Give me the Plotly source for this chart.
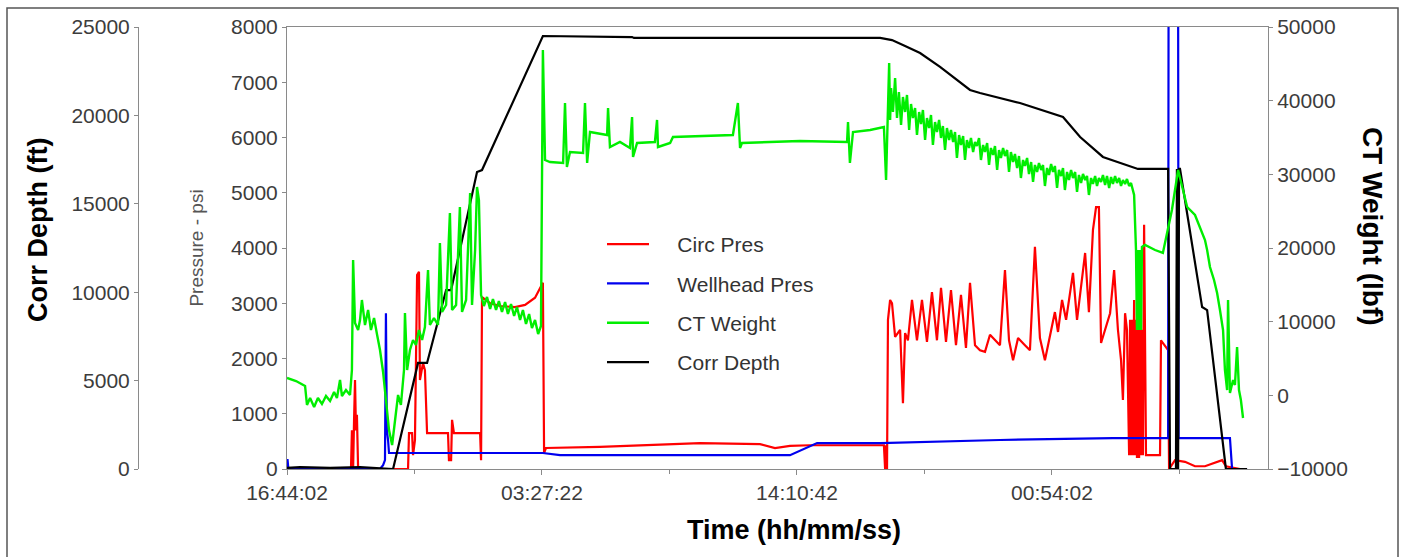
import pandas as pd
import plotly.graph_objects as go

# Job log start; every sample time below is elapsed hours from this moment
START = pd.Timestamp("2020-01-01 16:44:02")

# Circ Pres (psi) vs elapsed hours
CIRC_PRES = [
    (0.00, 0), (2.69, 0), (2.73, 700), (2.78, 0), (2.82, 890), (2.86, 1610), (2.90, 700),
    (2.94, 980), (2.99, 0), (5.09, 0), (5.13, 650), (5.26, 650), (5.30, 250), (5.38, 520),
    (5.47, 3510), (5.55, 3570), (5.59, 1610), (5.72, 1920), (5.80, 1790), (5.89, 650),
    (6.77, 650), (6.81, 160), (6.90, 160), (6.94, 890), (7.02, 650), (8.12, 650), (8.16, 160),
    (8.20, 3110), (8.54, 3000), (8.96, 2950), (9.59, 2930), (10.01, 2970), (10.43, 3100),
    (10.72, 3330), (10.76, 3370), (10.81, 290), (10.89, 380), (13.16, 400), (15.68, 450),
    (17.37, 470), (19.89, 450), (20.52, 380), (21.15, 420), (21.99, 430), (25.10, 430),
    (25.15, 0), (25.19, 430), (25.23, 0), (25.27, 2700), (25.36, 3060), (25.44, 3000),
    (25.57, 2390), (25.78, 2520), (25.90, 1190), (25.99, 2460), (26.11, 2330), (26.28, 3060),
    (26.49, 2330), (26.70, 3060), (26.91, 2300), (27.12, 3200), (27.33, 2330), (27.50, 3280),
    (27.71, 2300), (27.92, 3240), (28.13, 2240), (28.34, 3150), (28.55, 2190), (28.72, 3370),
    (28.93, 2240), (29.14, 2150), (29.35, 2120), (29.56, 2430), (29.77, 2330), (29.98, 2240),
    (30.19, 3600), (30.36, 2330), (30.53, 1970), (30.74, 2370), (31.03, 2240), (31.24, 2150),
    (31.45, 4020), (31.66, 2370), (31.87, 1970), (32.08, 2410), (32.29, 2840), (32.42, 2480),
    (32.59, 3060), (32.76, 2700), (32.93, 3240), (33.05, 3550), (33.22, 2700), (33.39, 3330),
    (33.56, 3910), (33.72, 2840), (33.89, 4330), (34.02, 4740), (34.14, 4740), (34.23, 2280),
    (34.40, 2520), (34.61, 2820), (34.78, 3600), (34.94, 2520), (35.07, 1970), (35.15, 1250),
    (35.24, 2820), (35.32, 2520), (35.41, 250), (35.45, 2700), (35.49, 250), (35.53, 2700),
    (35.57, 250), (35.62, 3060), (35.66, 250), (35.70, 2700), (35.74, 200), (35.78, 2700),
    (35.83, 200), (35.87, 2520), (35.91, 250), (35.95, 2520), (35.99, 250), (36.04, 4420),
    (36.12, 250), (36.71, 250), (36.75, 2330), (36.92, 2240), (37.05, 2150), (37.09, 0),
    (37.34, 160), (37.76, 130), (38.18, 50), (38.60, 50), (39.02, 110), (39.32, 160),
    (39.48, 50), (40.07, 0),
]

# Wellhead Pres (psi) vs elapsed hours
WELLHEAD_PRES = [
    (0.00, 0), (0.02, 180), (0.06, 0), (3.91, 0), (4.04, 70), (4.12, 160), (4.16, 2820),
    (4.20, 700), (4.25, 520), (4.29, 290), (10.76, 290), (11.48, 250), (17.37, 250),
    (21.15, 250), (22.29, 470), (24.94, 470), (29.98, 525), (34.73, 560), (37.05, 560),
    (37.07, 9000), (37.47, 9000), (37.49, 560), (39.65, 560), (39.74, 0), (40.37, 0),
]

# CT Weight (lbf) vs elapsed hours
CT_WEIGHT = [
    (0.00, 2353), (0.38, 1946), (0.76, 1267), (0.84, -1312), (0.97, -362), (1.14, -1584),
    (1.30, -362), (1.47, -1176), (1.64, -90), (1.81, -769), (1.98, 453), (2.10, -362),
    (2.23, 2082), (2.31, -90), (2.48, 724), (2.65, 46), (2.73, 3439), (2.78, 18372),
    (2.86, 9820), (2.99, 8869), (3.07, 10227), (3.15, 12942), (3.28, 9548), (3.41, 11584),
    (3.53, 8869), (3.66, 10498), (3.79, 8190), (3.91, 6155), (4.04, 3168), (4.16, -633),
    (4.29, -4706), (4.42, -6742), (4.54, -3348), (4.67, 46), (4.79, -1312), (4.92, 3439),
    (4.96, 11177), (5.05, 3439), (5.17, 6155), (5.30, 7512), (5.42, 6834), (5.55, 8869),
    (5.68, 7512), (5.80, 9277), (5.93, 17014), (6.01, 9548), (6.18, 10498), (6.35, 9548),
    (6.43, 20680), (6.52, 11313), (6.69, 12263), (6.85, 24752), (6.94, 11584), (7.11, 12263),
    (7.27, 25567), (7.36, 11313), (7.53, 12942), (7.70, 27467), (7.78, 12263), (7.91, 19729),
    (7.99, 28282), (8.07, 26517),
    (8.16, 13621), (8.28, 12127), (8.41, 13349), (8.54, 11720), (8.66, 13078), (8.79, 11584),
    (8.91, 12806), (9.04, 11313), (9.17, 12670), (9.29, 11041), (9.42, 12399), (9.55, 10770),
    (9.67, 11992), (9.80, 10227), (9.92, 11584), (10.05, 9684), (10.18, 11041), (10.30, 9141),
    (10.43, 10227), (10.56, 8326), (10.68, 9412),
    (10.76, 46879), (10.85, 31947),
    (11.06, 31675), (11.61, 31540), (11.69, 39685), (11.77, 30997), (11.90, 33033),
    (12.45, 32897), (12.53, 39685), (12.62, 31540), (12.74, 35748), (13.46, 35341),
    (13.50, 39007), (13.58, 33712), (14.00, 34390), (14.42, 33576), (14.51, 37784),
    (14.55, 32354), (14.72, 34255), (15.47, 34390), (15.56, 37377), (15.60, 33712),
    (16.11, 34255), (16.23, 35069), (18.75, 35341), (18.96, 39685), (19.05, 33576),
    (19.13, 34255), (21.57, 34526), (23.55, 34390), (23.59, 37105), (23.67, 31540),
    (23.80, 35748), (24.52, 36019), (25.10, 36427), (25.19, 29232),
    (25.27, 40092), (25.32, 45115), (25.36, 37377), (25.40, 41721), (25.48, 38463),
    (25.57, 43078), (25.65, 37648), (25.73, 41178), (25.82, 36698), (25.90, 40499),
    (25.99, 38463), (26.07, 40771), (26.16, 36019), (26.24, 39549), (26.32, 37648),
    (26.41, 39006), (26.49, 35341), (26.58, 38463), (26.66, 36834), (26.74, 38734),
    (26.83, 34662), (26.91, 37648), (27.00, 36291), (27.08, 38056), (27.16, 33983),
    (27.25, 37105), (27.33, 35748), (27.42, 37377), (27.50, 34933), (27.58, 36562),
    (27.67, 33304), (27.75, 36291), (27.84, 34662), (27.92, 36019), (28.01, 34390),
    (28.09, 35748), (28.17, 32218), (28.26, 35341), (28.34, 33983), (28.43, 35205),
    (28.51, 31947), (28.59, 34662), (28.68, 33576), (28.76, 34933), (28.85, 33033),
    (28.93, 34390), (29.01, 33847), (29.10, 34933), (29.18, 31947), (29.27, 33983),
    (29.35, 33033), (29.44, 34255), (29.52, 31268), (29.60, 33576), (29.69, 32626),
    (29.77, 33847), (29.86, 30589), (29.94, 33304), (30.02, 32218), (30.11, 33576),
    (30.19, 32490), (30.28, 33304), (30.36, 30318), (30.44, 33033), (30.53, 31675),
    (30.61, 32761), (30.70, 30861), (30.78, 32490), (30.86, 29503), (30.95, 31947),
    (31.03, 31132), (31.12, 32218), (31.20, 30046), (31.29, 31675), (31.37, 28960),
    (31.45, 31268), (31.54, 30318), (31.62, 31540), (31.71, 30589), (31.79, 31268),
    (31.87, 28417), (31.96, 30861), (32.04, 29911), (32.13, 31404), (32.21, 30318),
    (32.29, 31132), (32.38, 28146), (32.46, 30589), (32.55, 29775), (32.63, 30861),
    (32.71, 27874), (32.80, 30318), (32.88, 29232), (32.97, 30589), (33.05, 29503),
    (33.14, 30318), (33.22, 27603), (33.30, 29911), (33.39, 28825), (33.47, 30046),
    (33.56, 29232), (33.64, 29775), (33.72, 27196), (33.81, 29503), (33.89, 28689),
    (33.98, 29775), (34.06, 28417), (34.14, 29503), (34.23, 28960), (34.31, 29911),
    (34.40, 28553), (34.48, 29775), (34.57, 28146), (34.65, 29639), (34.73, 28689),
    (34.82, 29775), (34.90, 28825), (34.99, 29503), (35.07, 28417), (35.15, 29232),
    (35.24, 28689), (35.32, 29368), (35.41, 28417), (35.49, 28825), (35.62, 27196),
    (35.70, 19729), (35.74, 8869), (35.78, 19729), (35.83, 8869),
    (35.87, 19729), (35.91, 8869), (35.95, 20137), (36.08, 20408), (36.50, 19729),
    (36.83, 19322), (37.00, 21766), (37.21, 25159), (37.47, 30590), (37.85, 25567),
    (38.18, 24481), (38.39, 22851), (38.60, 21087), (38.69, 19729), (38.81, 17422),
    (38.98, 15657), (39.11, 13892), (39.23, 11584), (39.36, 8869), (39.44, 3439),
    (39.53, 724), (39.57, 12942), (39.65, 317), (39.78, 2082), (39.86, 1403), (39.95, 6562),
    (40.03, 724), (40.11, -633), (40.20, -3077),
]

# Corr Depth (ft) vs elapsed hours
CORR_DEPTH = [
    (0.00, 60), (0.55, 110), (1.81, 60), (3.07, 110), (4.46, 0), (5.51, 6000), (5.89, 6000),
    (6.69, 10120), (6.90, 10120), (7.99, 16800), (8.20, 16910), (10.76, 24490),
    (14.51, 24430), (14.59, 24380), (24.94, 24380), (25.44, 24260), (25.99, 23920),
    (26.62, 23530), (27.46, 22740), (28.72, 21440), (29.14, 21270), (30.82, 20700),
    (32.63, 19910), (33.35, 18780), (34.31, 17650), (35.78, 16970), (37.05, 16970),
    (37.13, 0), (37.38, 0), (37.42, 16970), (37.45, 0), (37.47, 0), (37.51, 16970),
    (37.55, 16970), (38.48, 9160), (38.69, 8990), (39.48, 0), (40.37, 0),
]

SERIES = [
    ("Circ Pres", CIRC_PRES, "#ff0000", "y", 2.2),
    ("Wellhead Pres", WELLHEAD_PRES, "#0000ee", "y", 2.2),
    ("CT Weight", CT_WEIGHT, "#00ee00", "y3", 2.4),
    ("Corr Depth", CORR_DEPTH, "#000000", "y2", 2.2),
]

PRESSURE_RANGE = [0, 8000]
DEPTH_RANGE = [0, 25000]
WEIGHT_RANGE = [-10000, 50000]
TIME_SPAN_H = 41.25
TICK_STEP_MS = 38_600_000  # 10:43:20 between labelled ticks

W, H = 1404, 557
ML, MR, MT, MB = 130, 136, 27, 88
PW = W - ML - MR
PH = H - MT - MB


def px_x(px):
    return (px - ML) / PW


def px_y(py):
    return (H - MB - py) / PH


AXIS_GREY = "#8a8a8a"
FAMILY = "Liberation Sans, Arial, sans-serif"
TICK_FONT = dict(family=FAMILY, size=21, color="#3c3c3c")
TITLE_FONT = dict(family=FAMILY, size=27, color="#000000")
LEGEND_PAD = "\u00a0" * 4  # gap between legend swatch and label

fig = go.Figure()
for i, (name, rows, color, yax, lw) in enumerate(SERIES):
    t = [START + pd.Timedelta(hours=h) for h, _ in rows]
    v = [val for _, val in rows]
    fig.add_trace(go.Scatter(
        x=t, y=v, name=LEGEND_PAD + name, mode="lines", yaxis=yax,
        line=dict(color=color, width=lw), legendgroup=f"g{i}",
    ))

fig.update_layout(
    width=W, height=H,
    margin=dict(l=ML, r=MR, t=MT, b=MB),
    paper_bgcolor="white", plot_bgcolor="white",
    font=dict(family=FAMILY),
    xaxis=dict(
        type="date", domain=[px_x(287), 1],
        range=[START, START + pd.Timedelta(hours=TIME_SPAN_H)],
        tick0=START, dtick=TICK_STEP_MS, tickformat="%H:%M:%S",
        ticks="outside", ticklen=5, tickcolor=AXIS_GREY,
        minor=dict(dtick=TICK_STEP_MS // 2, tick0=START, ticks="outside", ticklen=4,
                   tickcolor=AXIS_GREY),
        showline=True, linecolor=AXIS_GREY, linewidth=1, mirror=True,
        showgrid=False, zeroline=False, tickfont=TICK_FONT,
    ),
    yaxis=dict(
        range=PRESSURE_RANGE, dtick=1000, tickformat="d",
        ticks="outside", ticklen=4, tickcolor=AXIS_GREY,
        showline=True, linecolor=AXIS_GREY, linewidth=1, mirror=True,
        showgrid=False, zeroline=False, tickfont=TICK_FONT,
        title=dict(text="Pressure - psi", standoff=22,
                   font=dict(family=FAMILY, size=19, color="#555555")),
    ),
    yaxis2=dict(
        range=DEPTH_RANGE, dtick=5000, tickformat="d", overlaying="y", anchor="free",
        side="left", position=px_x(138), ticks="outside", ticklen=4, tickcolor=AXIS_GREY,
        showline=True, linecolor=AXIS_GREY, linewidth=1,
        showgrid=False, zeroline=False, tickfont=TICK_FONT,
    ),
    yaxis3=dict(
        range=WEIGHT_RANGE, dtick=10000, tickformat="d", overlaying="y", anchor="x",
        side="right", ticks="outside", ticklen=4, tickcolor=AXIS_GREY,
        showline=True, linecolor=AXIS_GREY, linewidth=1,
        showgrid=False, zeroline=False, tickfont=TICK_FONT,
    ),
    legend=dict(
        x=px_x(602), y=px_y(224), xanchor="left", yanchor="top",
        bgcolor="rgba(255,255,255,0)", borderwidth=0,
        font=dict(family=FAMILY, size=21, color="#333333"),
        tracegroupgap=9, itemwidth=42,
    ),
    showlegend=True,
)

fig.add_annotation(text="<b>Corr Depth (ft)</b>", xref="paper", yref="paper",
                   x=px_x(38), y=px_y(230), textangle=-90, showarrow=False,
                   xanchor="center", yanchor="middle", font=TITLE_FONT)
fig.add_annotation(text="<b>CT Weight (lbf)</b>", xref="paper", yref="paper",
                   x=px_x(1372), y=px_y(226), textangle=90, showarrow=False,
                   xanchor="center", yanchor="middle",
                   font=dict(family=FAMILY, size=28, color="#000000"))
fig.add_annotation(text="<b>Time (hh/mm/ss)</b>", xref="paper", yref="paper",
                   x=px_x(794), y=px_y(530), showarrow=False,
                   xanchor="center", yanchor="middle", font=TITLE_FONT)

# outer frame around the whole chart
fig.add_shape(type="rect", xref="paper", yref="paper",
              x0=px_x(7), x1=px_x(1398), y0=px_y(575), y1=px_y(8),
              line=dict(color="#555555", width=1.5), fillcolor="rgba(0,0,0,0)", layer="below")

fig.write_html("out.html")
